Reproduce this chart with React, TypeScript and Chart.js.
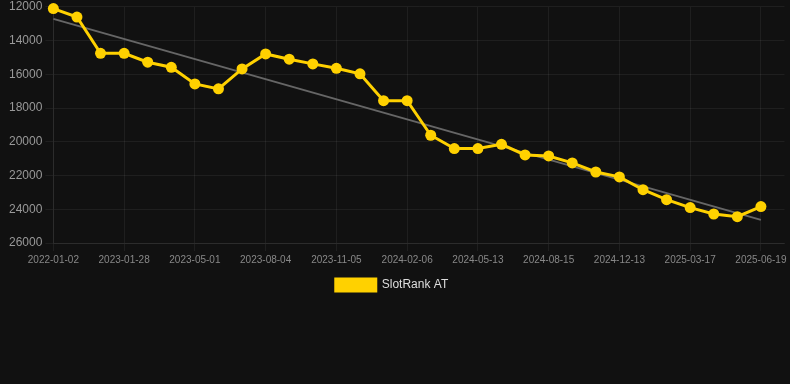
import React, { useEffect, useRef } from "react";
import { Chart, registerables } from "chart.js";

Chart.register(...registerables);

const categories: string[] = [
  "2022-01-02", "2022-05-15", "2022-09-20",
  "2023-01-28", "2023-02-28", "2023-03-30",
  "2023-05-01", "2023-06-02", "2023-07-03",
  "2023-08-04", "2023-09-05", "2023-10-05",
  "2023-11-05", "2023-12-06", "2024-01-06",
  "2024-02-06", "2024-03-08", "2024-04-10",
  "2024-05-13", "2024-06-14", "2024-07-15",
  "2024-08-15", "2024-09-25", "2024-11-03",
  "2024-12-13", "2025-01-13", "2025-02-14",
  "2025-03-17", "2025-04-17", "2025-05-19",
  "2025-06-19", "2025-07-20",
];

const rankValues: (number | null)[] = [
  12100, 12600, 14750, 14750, 15280, 15580, 16570, 16860, 15680, 14790,
  15100, 15380, 15640, 15970, 17560, 17560, 19610, 20400, 20400, 20150,
  20780, 20840, 21250, 21790, 22080, 22840, 23430, 23900, 24280, 24440,
  23840, null,
];

const trendValues: (number | null)[] = categories.map((_, i) =>
  i === 0 ? 12710 : i === 30 ? 24630 : null
);

const yTicks = { min: 12000, max: 26000, step: 2000 };

const seriesLabel = "SlotRank AT";

const legendShift = {
  id: "legendShift",
  afterLayout(chart: any) {
    if (chart.legend) {
      chart.legend.left -= 3;
      chart.legend.right -= 3;
    }
  },
};

export default function App() {
  const ref = useRef<HTMLCanvasElement | null>(null);

  useEffect(() => {
    document.body.style.margin = "0";
    document.body.style.background = "#111111";
    if (!ref.current) return;
    const font = "'Liberation Sans', Arial, Helvetica, sans-serif";
    const chart = new Chart(ref.current, {
      type: "line",
      plugins: [legendShift],
      data: {
        labels: categories,
        datasets: [
          {
            label: seriesLabel,
            data: rankValues,
            borderColor: "#FFD100",
            backgroundColor: "#FFD100",
            borderWidth: 3,
            pointRadius: 5.5,
            pointHoverRadius: 5.5,
            pointBorderWidth: 0,
            pointHoverBorderWidth: 0,
            pointBackgroundColor: "#FFD100",
            pointBorderColor: "#FFD100",
            tension: 0,
            clip: false,
          },
          {
            label: "trend",
            data: trendValues,
            borderColor: "#666666",
            backgroundColor: "#666666",
            borderWidth: 2,
            pointRadius: 0,
            pointHoverRadius: 0,
            pointBorderWidth: 0,
            spanGaps: true,
            tension: 0,
          },
        ],
      },
      options: {
        animation: false,
        responsive: false,
        maintainAspectRatio: false,
        plugins: {
          legend: {
            position: "bottom",
            labels: {
              color: "#dddddd",
              font: { family: font, size: 12 },
              boxWidth: 40,
              boxHeight: 12,
              filter: (item) => item.text === seriesLabel,
            },
          },
          tooltip: { enabled: false },
        },
        scales: {
          x: {
            type: "category",
            offset: false,
            grid: { color: "rgba(255,255,255,0.06)", tickLength: 8 },
            border: { color: "rgba(255,255,255,0.06)" },
            afterBuildTicks: (scale: any) => {
              scale.ticks = scale.ticks.filter(
                (t: any) => t.value % 3 === 0 && t.value <= 30
              );
            },
            afterFit: (scale: any) => {
              scale.paddingRight = 5;
            },
            ticks: {
              autoSkip: false,
              maxRotation: 0,
              color: "#888888",
              font: { family: font, size: 10 },
              callback: function (this: any, value: any) {
                return this.getLabelForValue(value);
              },
            },
          },
          y: {
            reverse: true,
            min: yTicks.min,
            max: yTicks.max,
            grid: { color: "rgba(255,255,255,0.06)", tickLength: 8 },
            border: { color: "rgba(255,255,255,0.06)" },
            afterFit: (scale: any) => {
              scale.width += 6;
            },
            ticks: {
              stepSize: yTicks.step,
              color: "#999999",
              font: { family: font, size: 12, lineHeight: 0.65 },
              callback: (value: any) => String(value),
            },
          },
        },
      },
    });
    return () => chart.destroy();
  }, []);

  return (
    <div style={{ width: 790, height: 384, background: "#111111" }}>
      <canvas ref={ref} width={790} height={301} style={{ display: "block" }} />
    </div>
  );
}
